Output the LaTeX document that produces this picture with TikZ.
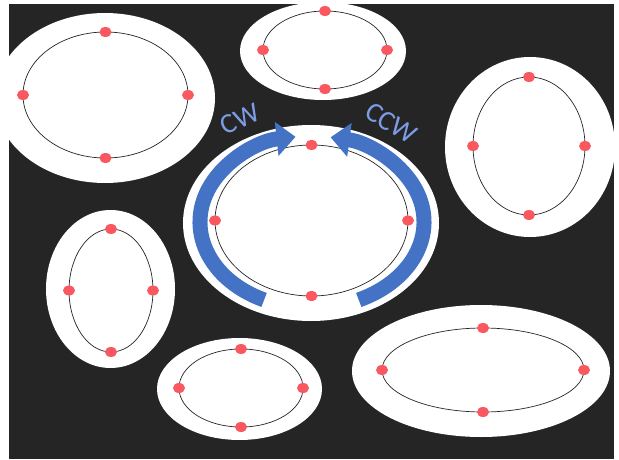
\documentclass[tikz,border=0pt]{standalone}
\usepackage{fontspec}
\setmainfont{Carlito}
\usetikzlibrary{arrows.meta}
\definecolor{board}{RGB}{37,37,37}
\definecolor{pinred}{RGB}{250,88,96}
\definecolor{bandblue}{RGB}{68,114,196}
\definecolor{labelblue}{RGB}{125,156,230}
\tikzset{
  x=1pt, y=1pt,
  outerring/.style={fill=white},
  innerring/.style={draw=black!85, line width=0.7pt, fill=white},
  pin/.style={fill=pinred},
  band/.style={draw=bandblue, line width=15pt,
    -{Triangle[length=19pt, width=33pt]}},
  turnlabel/.style={text=labelblue, font=\fontsize{28}{28}\selectfont, inner sep=0pt}
}
% one ring: outer white disc, thin inner orbit and its four pins
% #1 outer centre, #2/#3 outer radii, #4 inner centre, #5/#6 inner radii
\newcommand\orbitring[6]{%
  \fill[outerring] #1 ellipse[x radius=#2, y radius=#3];
  \begin{scope}[shift={#4}]
    \draw[innerring] (0,0) ellipse[x radius=#5, y radius=#6];
    \foreach \a in {0,90,180,270}
      \fill[pin] (\a:#5 and #6) ellipse[x radius=6, y radius=5];
  \end{scope}
}
\begin{document}
\begin{tikzpicture}
  \useasboundingbox (0,0) rectangle (619,459);
  \fill[white] (0,0) rectangle (619,459);
  \fill[board] (9,0) rectangle (614,455);
  \begin{scope}
    \clip (9,0) rectangle (614,455);
    \orbitring{(105,361)}{110}{85}{(105.5,364)}{82.5}{63}
    \orbitring{(323,408)}{83}{49}{(325,409)}{62}{39}
    \orbitring{(530,312)}{85}{90}{(529,313)}{56}{69}
    \orbitring{(311,236)}{128}{98}{(311.5,238.5)}{96.5}{75.5}
    \orbitring{(110.5,170)}{64.5}{79}{(111,168.5)}{42}{61.5}
    \orbitring{(239.5,70)}{82.5}{51}{(241,71)}{62}{39}
    \orbitring{(481,88)}{129}{66}{(483,89)}{101}{42}
  \end{scope}
  % rotation arrows round the central ring
  \begin{scope}[shift={(311,237)}]
    \draw[band] (245:111 and 86) arc[start angle=245, end angle=98, x radius=111, y radius=86];
    \draw[band] (-65:113 and 86) arc[start angle=-65, end angle=80, x radius=113, y radius=86];
  \end{scope}
  \node[turnlabel, rotate=25] (cw) at (240,340) {CW};
  \node[turnlabel, rotate=-32] (ccw) at (391,336) {CCW};
\end{tikzpicture}
\end{document}
